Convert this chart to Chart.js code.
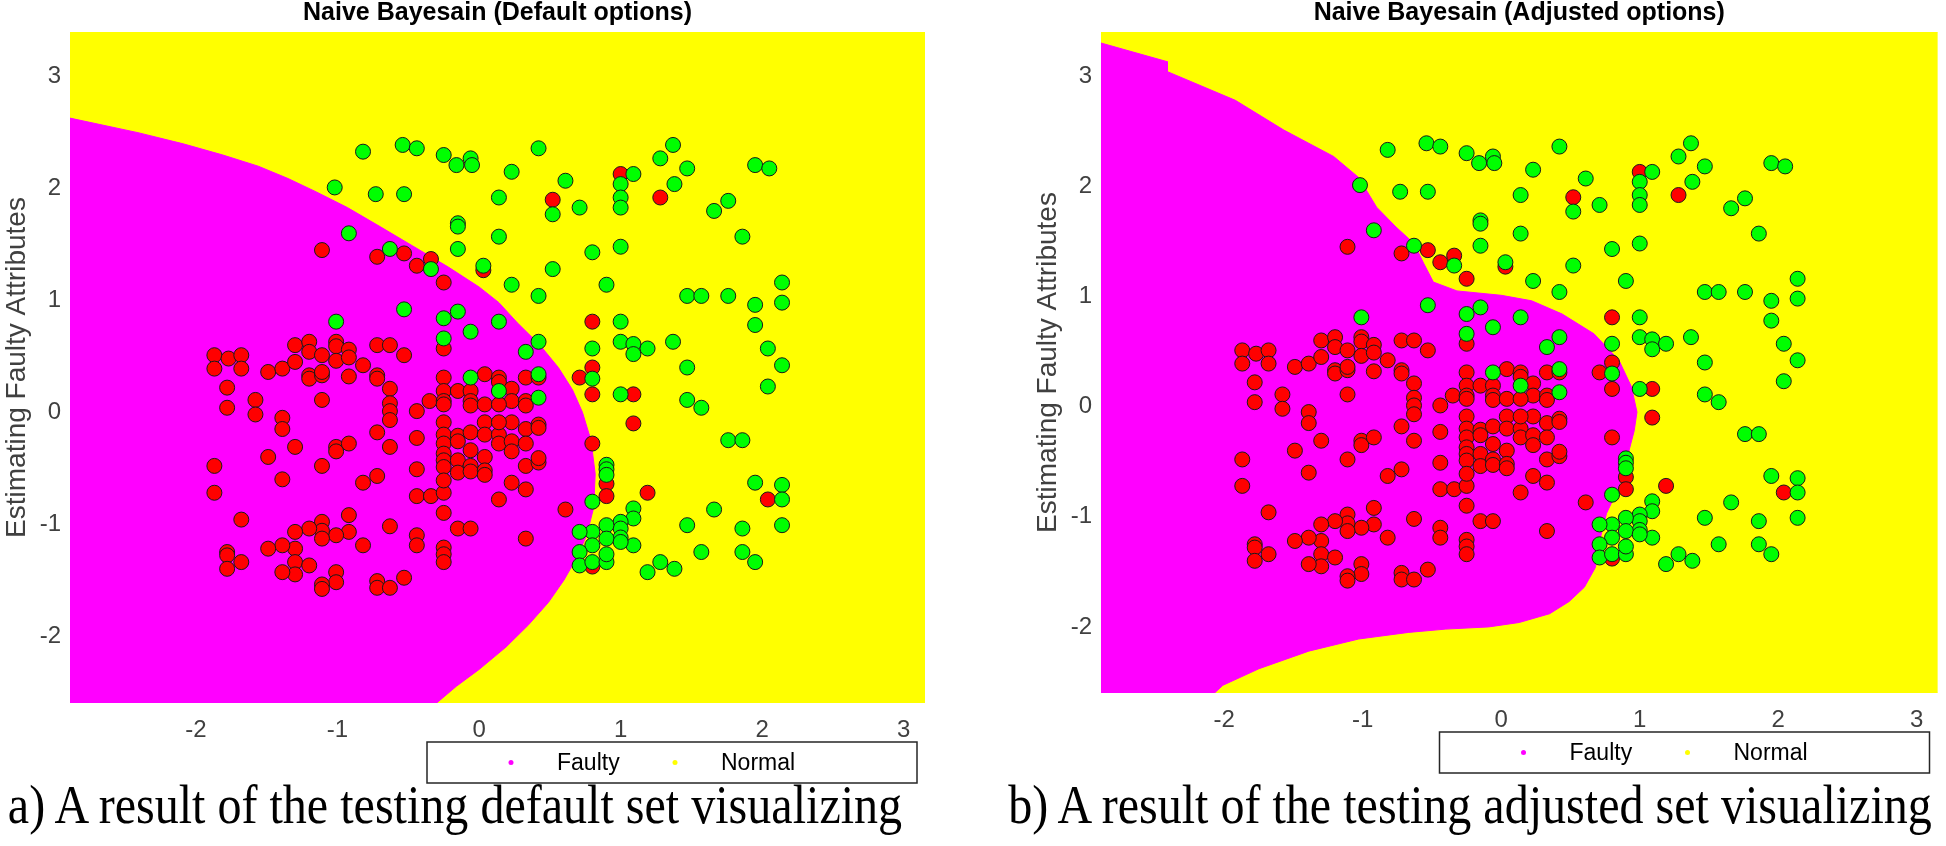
<!DOCTYPE html>
<html>
<head>
<meta charset="utf-8">
<script src="https://cdn.jsdelivr.net/npm/chart.js@4.4.1/dist/chart.umd.min.js"></script>
<style>
  body { margin: 0; background: #fff; width: 1946px; height: 846px; position: relative; overflow: hidden; }
  .pane { position: absolute; top: 0; width: 973px; height: 846px; }
  .caption { position: absolute; top: 778px; width: 1200px; font: 54px 'Liberation Serif', 'Times New Roman', serif; line-height: 1; text-align: center; white-space: nowrap; color: #000; transform: scaleX(0.89); }
</style>
</head>
<body>
<div class="pane" style="left:0"><canvas id="defaultChart"></canvas></div>
<div class="pane" style="left:973px"><canvas id="adjustedChart"></canvas></div>
<div class="caption" style="left:-145px">a) A result of the testing default set visualizing</div>
<div class="caption" style="left:870px">b) A result of the testing adjusted set visualizing</div>
<script>
const xRange = [-2.89, 3.15];
const yRange = [-2.6, 3.4];
const xTicks = [-2, -1, 0, 1, 2, 3];
const yTicks = [-2, -1, 0, 1, 2, 3];
const regionLabels = ['Faulty', 'Normal'];

// test samples labelled normal (green)
const normalPoints = [
  [-0.82,2.33],[-0.54,2.39],[-0.44,2.36],[-0.25,2.30],[-0.16,2.21],[-0.06,2.27],[-0.05,2.21],[-1.02,2.01],
  [-0.73,1.95],[-0.53,1.95],[-0.15,1.69],[-0.15,1.66],[-0.15,1.46],[-0.92,1.60],[-0.63,1.46],[-0.34,1.28],
  [0.03,1.31],[0.42,2.36],[0.23,2.15],[0.14,1.92],[0.61,2.07],[0.52,1.77],[0.71,1.83],[1.09,2.13],
  [1.00,2.04],[1.00,1.92],[1.00,1.83],[1.28,2.27],[1.37,2.39],[1.47,2.18],[1.38,2.04],[1.95,2.21],
  [2.05,2.18],[1.76,1.89],[1.66,1.80],[1.86,1.57],[0.14,1.57],[1.00,1.48],[0.80,1.43],[0.52,1.28],
  [0.23,1.14],[0.90,1.14],[2.14,1.16],[-0.53,0.92],[-0.15,0.90],[-0.25,0.84],[-0.06,0.72],[-0.25,0.66],
  [-1.01,0.81],[-0.06,0.31],[0.42,1.04],[1.47,1.04],[1.57,1.04],[1.76,1.04],[2.14,0.98],[1.95,0.96],
  [1.95,0.78],[0.14,0.81],[1.00,0.81],[0.42,0.63],[0.33,0.54],[0.80,0.57],[1.00,0.63],[1.09,0.61],
  [1.09,0.52],[1.19,0.57],[1.37,0.63],[2.04,0.57],[2.14,0.42],[1.47,0.40],[0.80,0.30],[1.00,0.16],
  [2.04,0.23],[1.47,0.11],[1.57,0.04],[0.14,0.19],[0.42,0.34],[0.42,0.13],[0.90,-0.47],[0.90,-0.51],
  [0.90,-0.56],[0.80,-0.80],[1.76,-0.25],[1.86,-0.25],[1.95,-0.63],[2.14,-0.65],[2.14,-0.78],[1.66,-0.87],
  [2.14,-1.01],[1.86,-1.04],[1.47,-1.01],[1.57,-1.25],[1.86,-1.25],[1.95,-1.34],[1.19,-1.43],[1.28,-1.34],
  [1.38,-1.40],[1.09,-0.86],[1.09,-0.95],[1.00,-0.98],[1.00,-1.04],[1.00,-1.12],[0.90,-1.01],[0.90,-1.13],
  [1.09,-1.19],[0.80,-1.07],[0.80,-1.19],[0.71,-1.07],[0.71,-1.25],[0.71,-1.37],[0.80,-1.34],[0.90,-1.34],
  [0.90,-1.27],[1.00,-1.16]
];

// test samples labelled faulty (red)
const faultyPoints = [
  [-1.11,1.45],[-0.72,1.39],[-0.53,1.42],[-0.34,1.37],[-0.44,1.31],[-0.25,1.16],[0.03,1.27],[0.52,1.90],
  [1.00,2.13],[1.28,1.92],[-0.25,0.57],[-1.87,0.51],[-1.87,0.39],[-1.77,0.48],[-1.68,0.51],[-1.68,0.39],
  [-1.78,0.22],[-1.78,0.04],[-1.58,0.11],[-1.58,-0.02],[-1.49,0.36],[-1.39,0.39],[-1.30,0.60],[-1.30,0.45],
  [-1.20,0.63],[-1.20,0.54],[-1.11,0.51],[-1.20,0.33],[-1.20,0.30],[-1.11,0.33],[-1.11,0.36],[-1.01,0.63],
  [-1.01,0.59],[-1.01,0.46],[-0.92,0.56],[-0.92,0.49],[-0.82,0.42],[-0.92,0.32],[-0.72,0.60],[-0.63,0.60],
  [-0.53,0.51],[-0.72,0.33],[-0.72,0.30],[-0.63,0.21],[-0.63,0.08],[-0.63,0.01],[-0.63,-0.07],[-0.72,-0.18],
  [-1.11,0.11],[-1.39,-0.05],[-1.39,-0.15],[-0.44,0.01],[-0.35,0.10],[-0.25,0.31],[-0.25,0.19],[-0.25,0.10],
  [-0.25,0.07],[-0.15,0.19],[-0.06,0.19],[-0.06,0.10],[-0.06,0.06],[0.04,0.34],[0.04,0.07],[-0.25,-0.09],
  [-0.25,-0.20],[-0.15,-0.21],[-0.06,-0.18],[0.04,-0.09],[0.04,-0.20],[-0.44,-0.23],[0.80,0.81],[0.80,0.40],
  [0.71,0.31],[0.80,0.16],[1.09,0.16],[1.09,-0.10],[0.33,0.31],[0.42,0.31],[0.14,0.31],[0.14,0.27],
  [0.23,0.21],[0.23,0.10],[0.33,0.10],[0.33,0.06],[0.14,0.07],[0.23,-0.09],[0.33,-0.15],[0.42,-0.11],
  [0.42,-0.14],[0.14,-0.20],[0.14,-0.09],[-1.30,-0.31],[-1.49,-0.40],[-1.87,-0.48],[-1.87,-0.72],[-1.39,-0.60],
  [-1.11,-0.48],[-1.01,-0.31],[-1.01,-0.35],[-0.92,-0.28],[-0.82,-0.63],[-0.72,-0.57],[-0.63,-0.31],[-0.44,-0.51],
  [-0.44,-0.75],[-0.34,-0.75],[-0.25,-0.72],[-0.25,-0.28],[-0.25,-0.37],[-0.25,-0.43],[-0.25,-0.49],[-0.25,-0.61],
  [-0.15,-0.26],[-0.15,-0.43],[-0.15,-0.54],[-0.06,-0.34],[-0.06,-0.48],[-0.06,-0.53],[0.04,-0.40],[0.04,-0.52],
  [0.04,-0.56],[-0.25,-0.90],[-0.15,-1.04],[-0.06,-1.04],[-0.44,-1.10],[-0.44,-1.19],[-0.25,-1.21],[-0.25,-1.27],
  [-0.25,-1.34],[-0.63,-1.02],[-0.82,-1.19],[-0.92,-0.92],[-0.92,-1.07],[-1.01,-1.10],[-1.11,-0.98],[-1.11,-1.06],
  [-1.11,-1.13],[-1.20,-1.04],[-1.30,-1.07],[-1.30,-1.22],[-1.30,-1.34],[-1.30,-1.45],[-1.20,-1.37],[-1.39,-1.19],
  [-1.39,-1.43],[-1.49,-1.22],[-1.68,-0.96],[-1.78,-1.25],[-1.78,-1.28],[-1.78,-1.40],[-1.68,-1.34],[-1.01,-1.43],
  [-1.01,-1.52],[-1.11,-1.54],[-1.11,-1.58],[-0.72,-1.51],[-0.72,-1.57],[-0.63,-1.57],[-0.53,-1.48],[0.80,-0.28],
  [0.14,-0.28],[0.23,-0.26],[0.23,-0.35],[0.33,-0.28],[0.33,-0.48],[0.42,-0.45],[0.42,-0.41],[0.23,-0.63],
  [0.33,-0.69],[0.14,-0.78],[0.61,-0.87],[0.33,-1.13],[0.90,-0.64],[0.90,-0.75],[1.19,-0.72],[2.04,-0.78],
  [0.80,-1.38]
];

// outline of the "Faulty" decision region, default options
const defaultBoundary = [
  [-2.89,2.63],[-2.41,2.50],[-2.09,2.40],[-1.81,2.30],[-1.56,2.20],[-1.35,2.09],[-1.15,1.97],[-0.93,1.83],
  [-0.70,1.66],[-0.46,1.48],[-0.22,1.30],[0.00,1.12],[0.14,0.98],[0.27,0.80],[0.43,0.60],[0.56,0.40],
  [0.66,0.20],[0.73,0.00],[0.79,-0.25],[0.82,-0.55],[0.81,-0.85],[0.76,-1.10],[0.69,-1.30],[0.60,-1.50],
  [0.49,-1.70],[0.35,-1.90],[0.19,-2.10],[0.00,-2.30],[-0.16,-2.45],[-0.30,-2.60],[-2.89,-2.60]
];

// outline of the "Faulty" decision region, adjusted options
const adjustedBoundary = [
  [-2.89,3.30],[-2.41,3.13],[-2.41,3.04],[-1.92,2.78],[-1.57,2.51],[-1.21,2.27],[-1.03,2.08],[-0.90,1.81],
  [-0.76,1.63],[-0.63,1.48],[-0.56,1.30],[-0.49,1.13],[-0.32,1.05],[0.0,1.01],[0.22,0.96],[0.44,0.84],
  [0.67,0.66],[0.85,0.42],[0.94,0.18],[0.98,-0.05],[0.96,-0.22],[0.91,-0.46],[0.85,-0.73],[0.76,-0.97],
  [0.71,-1.22],[0.68,-1.46],[0.60,-1.64],[0.49,-1.77],[0.35,-1.88],[0.13,-1.96],[-0.09,-2.0],[-0.40,-2.02],
  [-0.67,-2.05],[-1.03,-2.11],[-1.39,-2.22],[-1.75,-2.38],[-2.01,-2.53],[-2.07,-2.6],[-2.89,-2.6]
];

const plotCorners = [
  [xRange[0], yRange[0]], [xRange[1], yRange[0]], [xRange[1], yRange[1]], [xRange[0], yRange[1]]
];

const FONT = "'Liberation Sans', Arial, sans-serif";
const toXY = arr => arr.map(([x, y]) => ({ x, y }));

// framed legend under the axes, like the matlab one
const boxLegend = {
  id: 'boxLegend',
  afterDraw(chart) {
    const { ctx, chartArea } = chart;
    const w = 490, h = 41;
    const x0 = chartArea.right - 8 - w;
    const y0 = chartArea.bottom + 39;
    ctx.save();
    ctx.fillStyle = '#fff';
    ctx.fillRect(x0, y0, w, h);
    ctx.strokeStyle = '#262626';
    ctx.lineWidth = 1.5;
    ctx.strokeRect(x0, y0, w, h);
    ctx.font = '23px ' + FONT;
    ctx.textBaseline = 'middle';
    const items = chart.data.datasets.filter(d => regionLabels.includes(d.label))
      .sort((a, b) => a.order - b.order);
    items.forEach((d, i) => {
      const dotX = x0 + 84 + i * 164;
      ctx.fillStyle = d.backgroundColor;
      ctx.beginPath();
      ctx.arc(dotX, y0 + h / 2, 2.5, 0, Math.PI * 2);
      ctx.fill();
      ctx.fillStyle = '#000';
      ctx.fillText(d.label, dotX + 46, y0 + h / 2 + 1);
    });
    ctx.restore();
  }
};

function makeChart(id, title, boundary, pad) {
  const pointStyle = { borderColor: '#1a1a1a', borderWidth: 1, pointRadius: 7.5, pointHoverRadius: 7.5 };
  return new Chart(document.getElementById(id), {
    type: 'scatter',
    data: {
      datasets: [
        { label: 'normal samples', data: toXY(normalPoints), backgroundColor: '#00ff00', order: 0, ...pointStyle },
        { label: 'faulty samples', data: toXY(faultyPoints), backgroundColor: '#ff0000', order: 1, ...pointStyle },
        { label: regionLabels[0], data: toXY(boundary), showLine: true, fill: 'shape', backgroundColor: '#ff00ff',
          borderColor: '#ff00ff', borderWidth: 1, pointRadius: 0, order: 2 },
        { label: regionLabels[1], data: toXY(plotCorners), showLine: true, fill: 'shape', backgroundColor: '#ffff00',
          borderColor: '#ffff00', borderWidth: 1, pointRadius: 0, order: 3 }
      ]
    },
    options: {
      responsive: true,
      maintainAspectRatio: false,
      animation: false,
      events: [],
      layout: { padding: pad },
      plugins: {
        legend: { display: false },
        tooltip: { enabled: false },
        title: {
          display: true, text: title, fullSize: false, color: '#000',
          font: { family: FONT, size: 25, weight: 'bold', lineHeight: 1 },
          padding: { top: 1, bottom: 6 }
        }
      },
      scales: {
        x: {
          type: 'linear', min: xRange[0], max: xRange[1],
          grid: { display: false, drawTicks: false }, border: { display: false },
          ticks: { font: { family: FONT, size: 24 }, color: '#404040', padding: 13, includeBounds: false },
          afterBuildTicks: s => { s.ticks = xTicks.map(v => ({ value: v })); },
          afterFit: s => { s.height = 40; }
        },
        y: {
          type: 'linear', min: yRange[0], max: yRange[1],
          grid: { display: false, drawTicks: false }, border: { display: false },
          ticks: { font: { family: FONT, size: 24 }, color: '#404040', padding: 9, includeBounds: false },
          afterBuildTicks: s => { s.ticks = yTicks.map(v => ({ value: v })); },
          afterFit: s => { s.width = 70; },
          title: {
            display: true, text: 'Estimating Faulty Attributes', color: '#404040',
            font: { family: FONT, size: 28 }, padding: { top: 0, bottom: 0 }
          }
        }
      }
    },
    plugins: [boxLegend]
  });
}

makeChart('defaultChart', 'Naive Bayesain (Default options)', defaultBoundary,
  { left: 0, right: 48, top: 0, bottom: 103 });
makeChart('adjustedChart', 'Naive Bayesain (Adjusted options)', adjustedBoundary,
  { left: 58, right: 7, top: 0, bottom: 113 });
</script>
</body>
</html>
